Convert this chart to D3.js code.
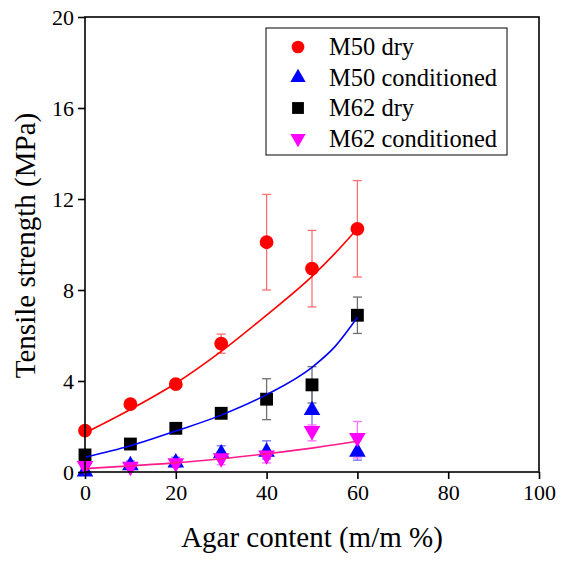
<!DOCTYPE html>
<html>
<head>
<meta charset="utf-8">
<script src="https://cdn.jsdelivr.net/npm/d3@7"></script>
</head>
<body style="margin:0;background:#fff">
<div id="chart"></div>
<script>
// Agar content (m/m %)
var agar = [0, 10, 20, 30, 40, 50, 60];

// Tensile strength (MPa) and error bars
var m50Dry = [1.82, 2.98, 3.86, 5.64, 10.1, 8.94, 10.69];
var m50DryErr = [0.12, 0.15, 0.15, 0.42, 2.1, 1.68, 2.12];
var m50Cond = [0.1, 0.38, 0.5, 0.9, 0.97, 2.8, 0.97];
var m50CondErr = [0.05, 0.1, 0.15, 0.25, 0.4, 0.8, 0.45];
var m62Dry = [0.75, 1.23, 1.92, 2.58, 3.2, 3.83, 6.89];
var m62DryErr = [0.1, 0.1, 0.1, 0.1, 0.9, 0.8, 0.8];
var m62Cond = [0.18, 0.15, 0.3, 0.52, 0.65, 1.72, 1.42];
var m62CondErr = [0.05, 0.05, 0.1, 0.2, 0.25, 0.35, 0.8];

// Fitted trend lines
var fitX = [0, 10, 20, 30, 40, 50, 55, 60];
var fitM50Dry = [1.72, 2.75, 3.9, 5.3, 6.9, 8.6, 9.6, 10.7];
var fitM62Dry = [0.65, 1.15, 1.8, 2.5, 3.4, 4.6, 5.5, 6.8];
var fitM62Cond = [0.15, 0.27, 0.4, 0.58, 0.8, 1.05, 1.2, 1.35];

var xTicks = [0, 20, 40, 60, 80, 100];
var yTicks = [0, 4, 8, 12, 16, 20];

var FONT = '"Liberation Serif", "Times New Roman", serif';
var width = 565, height = 561;
var margin = {top: 17, right: 26, bottom: 89, left: 85};

// serif font, forced so no outside stylesheet can swap it
function serif(sel, size) {
  sel.style('font-family', FONT, 'important')
     .style('font-size', size + 'px', 'important');
  return sel;
}

var svg = d3.select('#chart').append('svg')
    .attr('width', width)
    .attr('height', height)
    .style('display', 'block');

var x = d3.scaleLinear().domain([0, 100]).range([margin.left, width - margin.right]);
var y = d3.scaleLinear().domain([0, 20]).range([height - margin.bottom, margin.top]);

var series = [
  {name: 'M50 dry', values: m50Dry, err: m50DryErr, color: '#ff0000', errColor: '#ff7070', symbol: d3.symbolCircle, size: 150, rotate: 0},
  {name: 'M50 conditioned', values: m50Cond, err: m50CondErr, color: '#0000ff', errColor: '#7070ff', symbol: d3.symbolTriangle, size: 120, rotate: 0},
  {name: 'M62 dry', values: m62Dry, err: m62DryErr, color: '#000000', errColor: '#707070', symbol: d3.symbolSquare, size: 165, rotate: 0},
  {name: 'M62 conditioned', values: m62Cond, err: m62CondErr, color: '#ff00ff', errColor: '#ff70ff', symbol: d3.symbolTriangle, size: 120, rotate: 180}
];

var fits = [
  {values: fitM50Dry, color: '#ff0000'},
  {values: fitM62Dry, color: '#0000ff'},
  {values: fitM62Cond, color: '#ff1a8c'}
];

// error bars
series.forEach(function(s) {
  var g = svg.append('g').attr('stroke', s.errColor).attr('stroke-width', 1.3);
  agar.forEach(function(a, i) {
    var cx = x(a), lo = y(s.values[i] - s.err[i]), hi = y(s.values[i] + s.err[i]);
    g.append('line').attr('x1', cx).attr('x2', cx).attr('y1', lo).attr('y2', hi);
    g.append('line').attr('x1', cx - 4.5).attr('x2', cx + 4.5).attr('y1', lo).attr('y2', lo);
    g.append('line').attr('x1', cx - 4.5).attr('x2', cx + 4.5).attr('y1', hi).attr('y2', hi);
  });
});

// markers
series.forEach(function(s) {
  var sym = d3.symbol().type(s.symbol).size(s.size);
  svg.append('g').selectAll('path')
    .data(s.values)
    .enter().append('path')
    .attr('d', sym)
    .attr('fill', s.color)
    .attr('transform', function(d, i) {
      var dy = s.symbol === d3.symbolTriangle ? (s.rotate ? -2 : 2) : 0;
      return 'translate(' + x(agar[i]) + ',' + (y(d) + dy) + ') rotate(' + s.rotate + ')';
    });
});

// fit curves
var line = d3.line()
    .x(function(d, i) { return x(fitX[i]); })
    .y(function(d) { return y(d); })
    .curve(d3.curveMonotoneX);

fits.forEach(function(f) {
  svg.append('path')
    .attr('d', line(f.values))
    .attr('fill', 'none')
    .attr('stroke', f.color)
    .attr('stroke-width', 1.6);
});

// frame
svg.append('rect')
  .attr('x', x(0)).attr('y', y(20))
  .attr('width', x(100) - x(0)).attr('height', y(0) - y(20))
  .attr('fill', 'none').attr('stroke', '#000').attr('stroke-width', 1.6);

var xAxis = svg.append('g')
  .attr('transform', 'translate(0,' + y(0) + ')')
  .call(d3.axisBottom(x).tickValues(xTicks).tickSize(7).tickPadding(5));
var yAxis = svg.append('g')
  .attr('transform', 'translate(' + x(0) + ',0)')
  .call(d3.axisLeft(y).tickValues(yTicks).tickSize(7).tickPadding(4));

[xAxis, yAxis].forEach(function(ax) {
  ax.select('.domain').remove();
  ax.selectAll('line').attr('stroke', '#000').attr('stroke-width', 1.6);
  serif(ax.selectAll('text').attr('fill', '#000'), 22);
});

// axis titles
serif(svg.append('text')
  .attr('x', x(50))
  .attr('y', 547)
  .attr('text-anchor', 'middle')
  .text('Agar content (m/m %)'), 29);

serif(svg.append('text')
  .attr('transform', 'translate(35,' + ((y(0) + y(20)) / 2 + 1) + ') rotate(-90)')
  .attr('text-anchor', 'middle')
  .text('Tensile strength (MPa)'), 29);

// legend
var legend = svg.append('g');
legend.append('rect')
  .attr('x', 266).attr('y', 28).attr('width', 241).attr('height', 127)
  .attr('fill', '#fff').attr('stroke', '#000').attr('stroke-width', 1);

series.forEach(function(s, i) {
  var ly = 47 + i * 30.5;
  legend.append('path')
    .attr('d', d3.symbol().type(s.symbol).size(s.size * 0.85))
    .attr('fill', s.color)
    .attr('transform', 'translate(298,' + ly + ') rotate(' + s.rotate + ')');
  serif(legend.append('text')
    .attr('x', 329).attr('y', ly + 8)
    .text(s.name), 24.5);
});
</script>
</body>
</html>
